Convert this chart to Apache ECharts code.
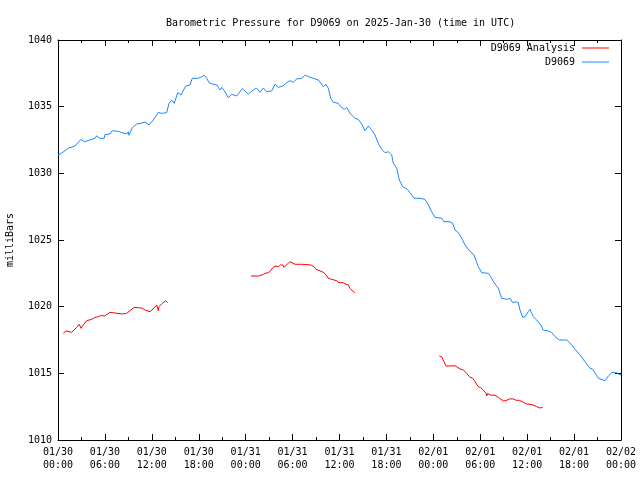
<!DOCTYPE html>
<html>
<head>
<meta charset="utf-8">
<script src="https://cdn.jsdelivr.net/npm/echarts@6/dist/echarts.min.js"></script>
<style>html,body{margin:0;padding:0;background:#fff}#c{width:640px;height:480px}</style>
</head>
<body>
<div id="c"></div>
<script>
// Hours since 2025-01-30 00:00 UTC
var xTickLabels = ['01/30\n00:00','01/30\n06:00','01/30\n12:00','01/30\n18:00','01/31\n00:00','01/31\n06:00','01/31\n12:00','01/31\n18:00','02/01\n00:00','02/01\n06:00','02/01\n12:00','02/01\n18:00','02/02\n00:00'];

var blueHours = [0,0.26,1.32,1.53,2.17,2.94,3.36,4.09,4.73,4.95,5.28,5.92,6.01,6.65,6.94,7.71,8.15,8.35,8.79,8.99,9.08,9.50,10.06,10.61,11.13,11.64,12.19,12.83,13.26,13.90,14.20,14.54,14.87,15.31,15.73,16.33,16.88,17.18,17.94,18.38,18.71,19.02,19.31,19.73,20.30,20.72,20.94,21.27,21.78,22.21,22.85,23.57,24.00,24.34,24.68,25.10,25.41,25.83,26.26,26.69,27.33,27.75,28.17,28.74,29.25,29.67,30.09,30.53,31.17,31.59,32.01,32.23,32.65,33.29,33.72,33.93,34.27,34.57,34.87,35.21,35.85,36.15,36.61,36.92,37.34,37.98,38.40,38.84,39.26,39.68,40.12,40.54,40.96,41.40,41.82,42.24,42.68,42.88,43.32,43.65,44.08,44.67,45.02,45.53,46.30,46.93,47.36,47.79,48.21,49.07,49.36,50.13,50.48,50.77,51.19,51.63,52.05,52.60,53.20,53.75,54.19,55.03,55.34,55.76,56.31,56.74,56.95,57.38,57.80,58.15,58.57,58.87,59.08,59.43,59.72,60.15,60.36,60.78,61.22,61.73,62.06,62.70,63.14,63.56,64.11,65.06,65.70,66.12,66.76,67.40,68.04,68.38,69.10,69.96,70.38,70.81,71.45,71.87,72.0];
var blueValues = [1031.38,1031.43,1031.88,1031.80,1032.05,1032.55,1032.37,1032.50,1032.63,1032.82,1032.63,1032.63,1032.90,1032.95,1033.20,1033.15,1033.05,1033.12,1032.95,1033.12,1032.85,1033.42,1033.70,1033.75,1033.85,1033.63,1034.00,1034.58,1034.50,1034.55,1035.25,1035.50,1035.25,1036.05,1035.88,1036.55,1036.63,1037.13,1037.13,1037.25,1037.35,1037.13,1036.80,1036.70,1036.63,1036.25,1036.45,1036.20,1035.67,1035.93,1035.80,1036.35,1036.12,1035.95,1036.12,1036.30,1036.38,1036.08,1036.40,1036.12,1036.18,1036.68,1036.45,1036.55,1036.80,1036.95,1036.83,1037.08,1037.13,1037.38,1037.25,1037.32,1037.13,1037.00,1036.70,1036.50,1036.68,1036.38,1035.63,1035.33,1035.25,1035.00,1034.80,1034.95,1034.50,1034.13,1034.05,1033.70,1033.20,1033.55,1033.25,1032.88,1032.25,1031.80,1031.55,1031.62,1031.38,1030.75,1030.38,1029.50,1029.00,1028.80,1028.55,1028.13,1028.13,1028.05,1027.63,1027.12,1026.70,1026.63,1026.37,1026.37,1026.25,1025.75,1025.55,1025.13,1024.63,1024.20,1023.88,1023.00,1022.55,1022.50,1022.25,1021.80,1021.38,1020.63,1020.50,1020.55,1020.63,1020.30,1020.37,1020.30,1019.75,1019.20,1019.25,1019.63,1019.80,1019.25,1019.00,1018.63,1018.25,1018.18,1018.05,1017.75,1017.50,1017.50,1017.13,1016.80,1016.38,1015.87,1015.38,1015.30,1014.63,1014.45,1014.80,1015.05,1015.05,1014.88,1014.90];

// Analysis series: three runs separated by gaps (null)
var redHours = [0.68,0.90,1.02,1.75,1.96,2.39,2.72,2.94,3.24,3.67,3.88,4.31,4.73,5.15,5.59,5.92,6.36,6.65,6.87,8.15,8.79,9.21,9.76,10.27,10.78,11.13,11.77,12.32,12.62,12.83,12.92,13.34,13.77,14.03,
  19.0,
  24.68,25.62,25.83,26.18,26.47,26.89,27.20,27.46,27.75,27.88,28.17,28.48,28.74,28.90,29.25,29.67,29.89,30.31,31.17,31.37,32.32,32.57,32.74,32.99,33.51,34.02,34.27,34.57,34.79,35.30,35.64,35.90,36.06,36.49,36.83,37.13,37.34,37.77,37.98,
  43.0,
  48.76,49.07,49.36,49.62,50.13,50.35,50.77,50.99,51.41,51.83,52.27,52.69,53.04,53.33,53.75,54.06,54.39,54.74,54.83,54.95,55.25,55.89,56.31,56.53,56.95,57.29,57.72,58.23,58.57,58.99,59.51,59.94,60.36,60.87,61.22,61.64,61.99];
var redValues = [1018.00,1017.93,1018.18,1018.08,1018.18,1018.45,1018.68,1018.38,1018.63,1018.95,1018.87,1019.05,1019.20,1019.25,1019.35,1019.30,1019.45,1019.58,1019.45,1019.45,1019.50,1019.70,1019.95,1019.92,1019.88,1019.75,1019.62,1019.92,1020.13,1019.70,1020.00,1020.25,1020.45,1020.30,
  null,
  1022.30,1022.30,1022.23,1022.40,1022.50,1022.55,1022.70,1022.92,1023.05,1022.92,1023.00,1023.13,1023.13,1022.95,1023.15,1023.37,1023.25,1023.18,1023.18,1023.13,1023.13,1023.18,1023.00,1022.80,1022.68,1022.55,1022.38,1022.13,1022.00,1022.00,1021.95,1021.80,1021.93,1021.80,1021.68,1021.63,1021.38,1021.13,1021.05,
  null,
  1016.30,1016.25,1015.87,1015.55,1015.55,1015.63,1015.57,1015.45,1015.33,1015.25,1015.00,1014.70,1014.63,1014.37,1014.00,1013.92,1013.75,1013.50,1013.30,1013.50,1013.38,1013.35,1013.20,1013.13,1012.93,1012.95,1013.08,1013.08,1012.98,1012.98,1012.83,1012.70,1012.68,1012.60,1012.50,1012.40,1012.45];

var FONT = '"DejaVu Sans Mono", "Liberation Mono", monospace';
var blueData = blueHours.map(function(h,i){return [h, blueValues[i]];});
var redData = redHours.map(function(h,i){return [h, redValues[i]];});

var tickCommon = {
  axisLine:{show:true,onZero:false,lineStyle:{color:'#000',width:1}},
  axisTick:{show:true,inside:true,length:6,lineStyle:{color:'#000',width:1}},
  splitLine:{show:false}
};

var chart = echarts.init(document.getElementById('c'), null, {renderer:'canvas'});
chart.setOption({
  animation:false,
  backgroundColor:'#fff',
  textStyle:{fontFamily:FONT,color:'#000'},
  title:{text:'Barometric Pressure for D9069 on 2025-Jan-30 (time in UTC)',left:161,top:13,
    textStyle:{fontFamily:FONT,fontSize:10,fontWeight:'normal',color:'#000'}},
  grid:{left:58,right:19,top:40,bottom:40,containLabel:false,outerBoundsMode:'none'},
  legend:[
    {data:['D9069 Analysis'],right:31,top:43,padding:0,align:'right',icon:'rect',itemWidth:27,itemHeight:1,itemGap:0,
      textStyle:{fontFamily:FONT,fontSize:10,color:'#000',padding:[0,2,0,0]}},
    {data:['D9069'],right:31,top:57,padding:0,align:'right',icon:'rect',itemWidth:27,itemHeight:1,itemGap:0,
      textStyle:{fontFamily:FONT,fontSize:10,color:'#000',padding:[0,2,0,0]}}
  ],
  xAxis:[
    Object.assign({type:'value',position:'bottom',min:0,max:72,interval:6,
      minorTick:{show:true,splitNumber:2,length:3,lineStyle:{color:'#000'}},minorSplitLine:{show:false},
      axisLabel:{show:true,margin:6,fontFamily:FONT,fontSize:10,color:'#000',lineHeight:13,
        formatter:function(v){return xTickLabels[Math.round(v/6)];}}}, tickCommon),
    Object.assign({type:'value',position:'top',min:0,max:72,interval:6,
      minorTick:{show:true,splitNumber:2,length:3,lineStyle:{color:'#000'}},minorSplitLine:{show:false},
      axisLabel:{show:false}}, tickCommon)
  ],
  yAxis:[
    Object.assign({type:'value',position:'left',min:1010,max:1040,interval:5,
      name:'milliBars',nameLocation:'middle',nameRotate:90,nameGap:43,
      nameTextStyle:{fontFamily:FONT,fontSize:10,color:'#000'},
      axisLabel:{show:true,margin:6,fontFamily:FONT,fontSize:10,color:'#000',
        formatter:function(v){return String(v);}}}, tickCommon),
    Object.assign({type:'value',position:'right',min:1010,max:1040,interval:5,
      axisLabel:{show:false}}, tickCommon)
  ],
  series:[
    {name:'D9069 Analysis',type:'line',xAxisIndex:0,yAxisIndex:0,data:redData,showSymbol:false,symbol:'none',
      connectNulls:false,lineStyle:{color:'#ff0000',width:1},itemStyle:{color:'#ff0000'}},
    {name:'D9069',type:'line',xAxisIndex:0,yAxisIndex:0,data:blueData,showSymbol:false,symbol:'none',
      lineStyle:{color:'#1a88ff',width:1},itemStyle:{color:'#1a88ff'}}
  ]
});
</script>
</body>
</html>
